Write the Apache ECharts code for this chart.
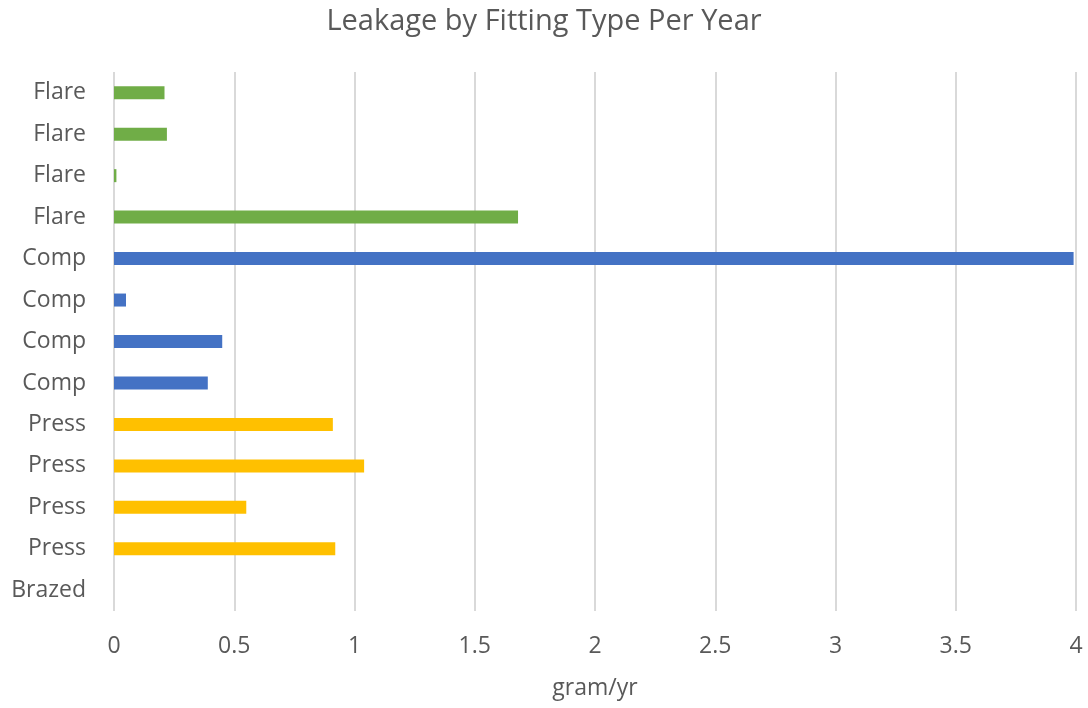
<!DOCTYPE html>
<html>
<head>
<meta charset="utf-8">
<script src="https://cdn.jsdelivr.net/npm/echarts@6/dist/echarts.min.js"></script>
<style>
  html, body { margin: 0; padding: 0; background: #fff; }
  #chart { width: 1088px; height: 708px; }
</style>
</head>
<body>
<div id="chart"></div>
<script>
// categories from bottom to top
var fittings = ['Brazed', 'Press', 'Press', 'Press', 'Press', 'Comp', 'Comp', 'Comp', 'Comp', 'Flare', 'Flare', 'Flare', 'Flare'];
var leakage = [0, 0.92, 0.55, 1.04, 0.91, 0.39, 0.45, 0.05, 3.99, 1.68, 0.01, 0.22, 0.21];
var xTicks = [0, 0.5, 1, 1.5, 2, 2.5, 3, 3.5, 4];

var typeColors = {
    Brazed: '#a5a5a5',
    Press: '#ffc000',
    Comp: '#4472c4',
    Flare: '#70ad47'
};

var chart = echarts.init(document.getElementById('chart'));

var barData = leakage.map(function (v, i) {
    return { value: v, itemStyle: { color: typeColors[fittings[i]] } };
});

var option = {
    backgroundColor: '#fff',
    animation: false,
    textStyle: { fontFamily: 'Open Sans' },
    title: {
        text: 'Leakage by Fitting Type Per Year',
        left: 'center',
        top: 2,
        textStyle: { fontFamily: 'Open Sans', fontSize: 29, fontWeight: 'normal', color: '#595959' }
    },
    grid: {
        left: 114,
        right: 12,
        top: 72,
        bottom: 97
    },
    xAxis: {
        type: 'value',
        min: 0,
        max: 4,
        interval: 0.5,
        name: 'gram/yr',
        nameLocation: 'middle',
        nameGap: 66,
        nameTextStyle: { fontSize: 23, color: '#595959' },
        axisLine: { show: false },
        axisTick: { show: false },
        axisLabel: {
            fontSize: 23,
            color: '#595959',
            margin: 24,
            formatter: function (v) { return xTicks.indexOf(v) >= 0 ? String(v) : ''; }
        },
        splitLine: { show: true, lineStyle: { color: '#d9d9d9', width: 2 } }
    },
    yAxis: {
        type: 'category',
        data: fittings,
        axisLine: { show: false },
        axisTick: { show: false },
        axisLabel: { fontSize: 23, color: '#595959', margin: 28 }
    },
    series: [
        {
            type: 'bar',
            data: barData,
            barWidth: 13
        }
    ]
};

chart.setOption(option);
</script>
</body>
</html>
